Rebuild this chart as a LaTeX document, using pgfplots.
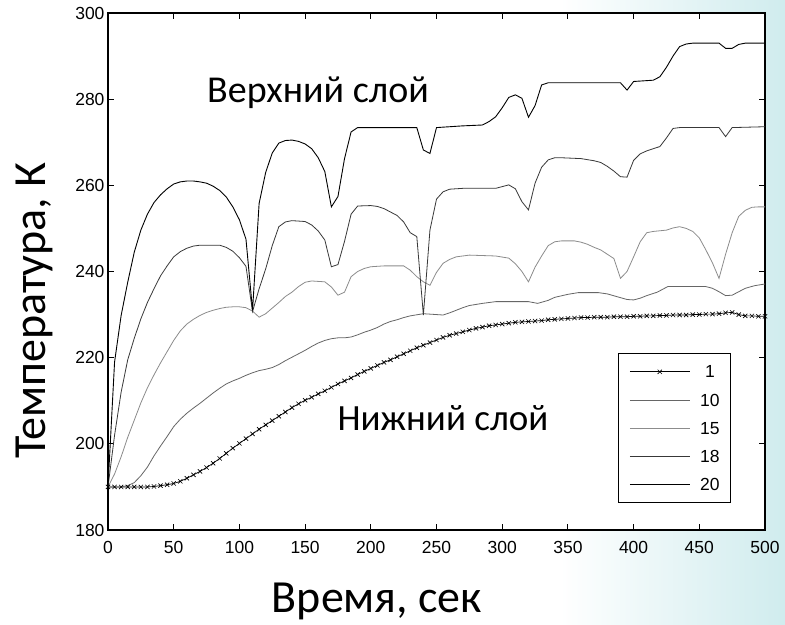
\documentclass[border=0pt]{standalone}
\usepackage{fontspec}
\setmainfont{Carlito}
\newfontfamily\arial{Liberation Sans}
\usepackage{pgfplots}
\pgfplotsset{compat=1.18}
\definecolor{bgc}{RGB}{208,236,238}
\begin{document}
\begin{tikzpicture}[x=1bp,y=1bp]
\useasboundingbox (0,0) rectangle (785,625);
\fill[white] (0,0) rectangle (785,625);
\shade[left color=white, right color=bgc] (560,0) rectangle (785,625);
\begin{axis}[
  at={(108bp,95bp)}, anchor=south west,
  width=657bp, height=517bp, scale only axis,
  xmin=0, xmax=500, ymin=180, ymax=300,
  xtick={0,50,...,500}, ytick={180,200,...,300},
  axis background/.style={fill=white},
  axis line style={line width=1.1bp, black},
  major tick length=6bp,
  every tick/.style={black, line width=0.9bp},
  /pgf/number format/assume math mode=true,
  tick label style={font=\arial\fontsize{17.5bp}{17.5bp}\selectfont},
  xticklabel style={yshift=-8bp},
  clip=false,
  legend style={
    at={(0.776,0.342)}, anchor=north west,
    draw=black, line width=1bp, fill=white,
    font=\arial\fontsize{17.5bp}{17.5bp}\selectfont,
    inner xsep=11bp, inner ysep=12bp,
    row sep=15.9bp, column sep=0bp,
    nodes={inner sep=0pt, text height=12.3bp, text depth=0bp},
  },
  legend cell align=center,
  legend image code/.code={
    \draw[mark repeat=2,mark phase=2,#1]
      plot coordinates {(0bp,0bp) (30bp,0bp) (60bp,0bp)};
    \path (70bp,0bp);
  },
]
% layer 1
\addplot[black, line width=0.7bp, mark=x, mark size=3bp, mark options={line width=0.65bp}] coordinates {
(0,190) (5,190) (10,190) (15,190) (20,190) (25,190) (30,190) (35,190.1) (40,190.3) (45,190.5)
(50,190.8) (55,191.3) (60,192.0) (65,192.8) (70,193.6) (75,194.5) (80,195.5) (85,196.6) (90,197.8) (95,199.0)
(100,200.1) (105,201.2) (110,202.3) (115,203.4) (120,204.4) (125,205.4) (130,206.4) (135,207.4) (140,208.4) (145,209.3)
(150,210.1) (155,210.8) (160,211.6) (165,212.3) (170,213.1) (175,213.9) (180,214.6) (185,215.3) (190,216.1) (195,216.8)
(200,217.5) (205,218.2) (210,218.9) (215,219.5) (220,220.2) (225,220.9) (230,221.6) (235,222.3) (240,222.9) (245,223.5)
(250,224.1) (255,224.7) (260,225.2) (265,225.6) (270,226.0) (275,226.4) (280,226.8) (285,227.1) (290,227.4) (295,227.6)
(300,227.8) (305,228.0) (310,228.2) (315,228.3) (320,228.4) (325,228.5) (330,228.6) (335,228.8) (340,228.9) (345,229.0)
(350,229.1) (355,229.2) (360,229.3) (365,229.3) (370,229.4) (375,229.4) (380,229.4) (385,229.5) (390,229.5) (395,229.5)
(400,229.6) (405,229.6) (410,229.7) (415,229.7) (420,229.8) (425,229.8) (430,229.9) (435,229.9) (440,229.9) (445,230.0)
(450,230.0) (455,230.1) (460,230.1) (465,230.2) (470,230.4) (475,230.5) (480,230.0) (485,229.7) (490,229.7) (495,229.6) (500,229.6)
};
\addlegendentry{1}
% layer 10
\addplot[black!60, line width=0.8bp] coordinates {
(0,190) (10,190) (15,190.3) (20,191) (25,192.6) (30,194.6) (35,197.2) (40,199.5) (45,201.7)
(50,204) (55,205.7) (60,207.1) (65,208.3) (70,209.4) (75,210.6) (80,211.8) (85,212.9) (90,213.9) (95,214.6)
(100,215.2) (105,215.9) (110,216.5) (115,217) (120,217.3) (125,217.7) (130,218.4) (135,219.3) (140,220.1) (145,220.9)
(150,221.7) (155,222.6) (160,223.4) (165,224) (170,224.4) (175,224.6) (180,224.6) (185,224.8) (190,225.3) (195,225.9)
(200,226.4) (205,227) (210,227.8) (215,228.4) (220,228.8) (225,229.3) (230,229.7) (240,230.2) (245,230.1) (255,229.9)
(260,230.4) (265,231) (270,231.6) (275,232.1) (285,232.6) (295,233) (320,233) (327,232.6) (335,233.3) (340,234)
(350,234.7) (358,235.1) (373,235.1) (380,234.8) (388,234.1) (395,233.5) (400,233.4) (405,233.8) (410,234.4) (418,235.2)
(426,236.5) (455,236.5) (460,236.1) (465,235.3) (470,234.4) (475,234.5) (480,235.3) (485,236.1) (492,236.7) (500,237.1)
};
\addlegendentry{10}
% layer 15
\addplot[black!45, line width=0.8bp] coordinates {
(0,190) (5,193) (10,197) (15,201.5) (20,205.5) (25,209.5) (30,213) (35,216) (40,218.8) (45,221.4)
(50,224) (55,226.2) (60,227.8) (65,228.9) (70,229.8) (75,230.5) (80,231) (85,231.4) (90,231.7) (95,231.8)
(100,231.8) (105,231.6) (110,230.8) (115,229.4) (120,230.2) (125,231.5) (130,232.8) (135,234.2) (140,235.2) (145,236.5)
(150,237.5) (155,237.8) (165,237.6) (170,236.4) (175,234.5) (180,235.2) (185,238.8) (190,240) (195,240.7) (200,241.1)
(210,241.3) (225,241.3) (230,240.3) (235,238.8) (240,237.6) (245,236.8) (250,239.8) (255,241.9) (260,242.8) (265,243.4)
(275,243.8) (295,243.6) (305,243.1) (310,241.8) (315,240) (320,237.6) (325,241) (330,243.6) (335,246) (340,246.9)
(345,247.1) (355,247.1) (360,246.8) (365,246.3) (370,245.6) (375,245) (380,244) (385,243) (390,238.4) (395,240)
(400,243.4) (405,246.9) (410,249) (415,249.3) (425,249.6) (430,250.1) (435,250.4) (440,250) (445,249.3) (450,247.8)
(455,245) (460,242) (465,238.4) (470,244) (475,249) (480,252.8) (485,254.2) (490,254.9) (495,255) (500,255)
};
\addlegendentry{15}
% layer 18
\addplot[black!78, line width=0.8bp] coordinates {
(0,190) (5,202) (10,212) (15,219.5) (20,224.5) (25,229) (30,232.8) (35,236) (40,239) (45,241.3)
(50,243.4) (55,244.6) (60,245.4) (65,245.9) (70,246.1) (85,246.1) (90,245.6) (95,244.7) (100,243.2) (105,241.2)
(110,230.7) (115,236) (120,240.6) (125,246) (130,250.4) (135,251.5) (140,251.8) (150,251.6) (155,250.8) (160,249.4)
(165,247.3) (170,241.1) (175,241.6) (180,247) (185,253.3) (190,255.2) (200,255.3) (205,255.1) (210,254.6) (215,253.8)
(220,253) (225,251.5) (230,249) (235,248.1) (240,229.9) (245,249.6) (250,256.8) (255,258.5) (260,259.1) (270,259.3)
(295,259.3) (305,260.1) (310,259.2) (315,256.2) (320,254.3) (325,260.5) (330,264.2) (335,265.9) (340,266.4) (345,266.4)
(360,266.2) (370,265.7) (375,265.3) (380,264.4) (385,263.3) (390,262) (395,261.9) (400,265.8) (405,267.3) (410,268)
(415,268.5) (420,269) (425,271) (430,273.2) (435,273.4) (465,273.4) (470,271.3) (475,273.4) (500,273.6)
};
\addlegendentry{18}
% layer 20
\addplot[black, line width=0.9bp] coordinates {
(0,190) (5,219) (10,229.8) (15,237.5) (20,244.5) (25,249.6) (30,253.3) (35,256) (40,257.8) (45,259.2)
(50,260.3) (55,260.8) (60,261) (65,261) (70,260.8) (75,260.5) (80,259.8) (85,258.8) (90,257.3) (95,255)
(100,252) (105,247.5) (110,231) (115,255.8) (120,263) (125,267.5) (130,269.8) (135,270.4) (140,270.5) (145,270.2)
(150,269.6) (155,268.5) (160,266.4) (165,263.2) (170,255) (175,257.4) (180,266.2) (185,272.4) (190,273.4) (235,273.4)
(240,268.2) (245,267.4) (250,273.4) (260,273.6) (270,273.8) (285,274) (290,274.8) (295,275.9) (300,278) (305,280.4)
(310,281) (315,280.2) (320,275.8) (325,278.5) (330,283.3) (335,283.8) (390,283.8) (395,282.1) (400,284.1) (415,284.4)
(420,285.2) (425,287.4) (430,290) (435,292.2) (440,292.8) (445,293) (465,293) (470,291.8) (475,291.8) (480,292.7)
(485,293) (500,293)
};
\addlegendentry{20}
\end{axis}
\node[anchor=base, font=\fontsize{38bp}{40bp}\selectfont] at (318,522) {Верхний слой};
\node[anchor=base, font=\fontsize{37bp}{40bp}\selectfont] at (443,194) {Нижний слой};
\node[anchor=base, font=\fontsize{46bp}{48bp}\selectfont] at (377,12) {Время, сек};
\node[anchor=base, rotate=90, font=\fontsize{46bp}{48bp}\selectfont] at (45,314.5) {Температура, К};
\end{tikzpicture}
\end{document}
